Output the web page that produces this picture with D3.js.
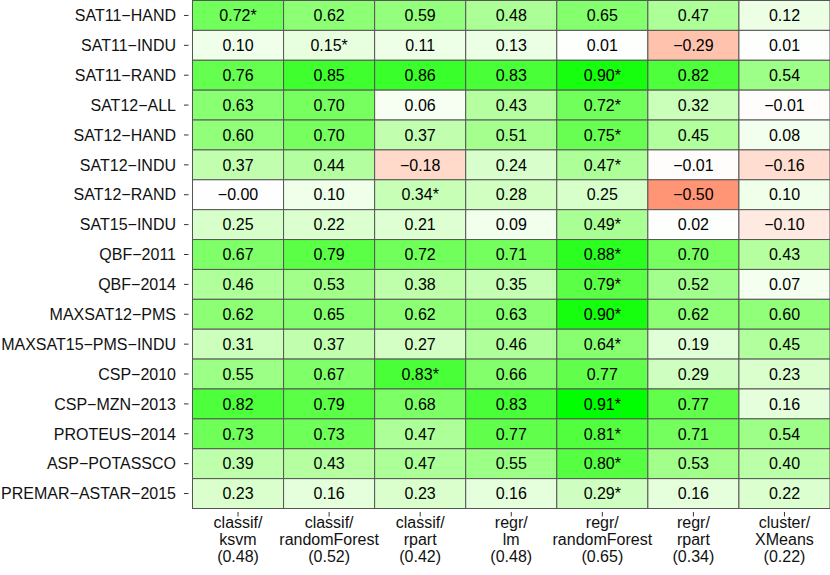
<!DOCTYPE html>
<html>
<head>
<meta charset="utf-8">
<script src="https://cdn.jsdelivr.net/npm/d3@7"></script>
<style>
  body { margin: 0; background: #fff; }
  svg text { font-family: "Liberation Sans", Arial, Helvetica, sans-serif; }
</style>
</head>
<body>
<svg id="chart" width="830" height="575"></svg>
<script>
// scenarios, top to bottom
let scenarios = ["SAT11-HAND", "SAT11-INDU", "SAT11-RAND", "SAT12-ALL", "SAT12-HAND",
    "SAT12-INDU", "SAT12-RAND", "SAT15-INDU", "QBF-2011", "QBF-2014", "MAXSAT12-PMS",
    "MAXSAT15-PMS-INDU", "CSP-2010", "CSP-MZN-2013", "PROTEUS-2014", "ASP-POTASSCO",
    "PREMAR-ASTAR-2015"];

let learnerType = ["classif", "classif", "classif", "regr", "regr", "regr", "cluster"];
let learnerName = ["ksvm", "randomForest", "rpart", "lm", "randomForest", "rpart", "XMeans"];
let learnerMean = [0.48, 0.52, 0.42, 0.48, 0.65, 0.34, 0.22];

// one row per scenario, one value per learner
let values = [
    [0.72, 0.62, 0.59, 0.48, 0.65, 0.47, 0.12],
    [0.10, 0.15, 0.11, 0.13, 0.01, -0.29, 0.01],
    [0.76, 0.85, 0.86, 0.83, 0.90, 0.82, 0.54],
    [0.63, 0.70, 0.06, 0.43, 0.72, 0.32, -0.01],
    [0.60, 0.70, 0.37, 0.51, 0.75, 0.45, 0.08],
    [0.37, 0.44, -0.18, 0.24, 0.47, -0.01, -0.16],
    [-0.004, 0.10, 0.34, 0.28, 0.25, -0.50, 0.10],
    [0.25, 0.22, 0.21, 0.09, 0.49, 0.02, -0.10],
    [0.67, 0.79, 0.72, 0.71, 0.88, 0.70, 0.43],
    [0.46, 0.53, 0.38, 0.35, 0.79, 0.52, 0.07],
    [0.62, 0.65, 0.62, 0.63, 0.90, 0.62, 0.60],
    [0.31, 0.37, 0.27, 0.46, 0.64, 0.19, 0.45],
    [0.55, 0.67, 0.83, 0.66, 0.77, 0.29, 0.23],
    [0.82, 0.79, 0.68, 0.83, 0.91, 0.77, 0.16],
    [0.73, 0.73, 0.47, 0.77, 0.81, 0.71, 0.54],
    [0.39, 0.43, 0.47, 0.55, 0.80, 0.53, 0.40],
    [0.23, 0.16, 0.23, 0.16, 0.29, 0.16, 0.22]
];
// column marked with * in each row
let best = [0, 1, 4, 4, 4, 4, 2, 4, 4, 4, 4, 4, 2, 4, 4, 4, 4];

let chart = d3.select("#chart");
let plotLeft = 192.5, plotRight = 830, plotTop = 0.5, plotBottom = 508.5;

let cols = d3.range(learnerName.length);
let xScale = d3.scaleBand().domain(cols).range([plotLeft, plotRight]);
let yScale = d3.scaleBand().domain(scenarios).range([plotTop, plotBottom]);

let lim = d3.max(values.flat(), v => Math.abs(v));
let color = d3.scaleLinear()
    .domain([-lim, 0, lim])
    .range(["#ff0000", "#ffffff", "#00ff00"])
    .interpolate(d3.interpolateLab);

// keep the sign on values that round to zero (e.g. -0.00)
let fmt2 = d3.format(".2f");
let fmt = v => (v < 0 ? "\u2212" : "") + fmt2(Math.abs(v));

let cells = [];
values.forEach((row, i) => row.forEach((v, j) => {
    cells.push({row: scenarios[i], col: j, v: v, star: best[i] == j});
}));

chart.selectAll("rect.cell")
    .data(cells).enter()
    .append("rect")
        .attr("class", "cell")
        .attr("x", d => xScale(d.col))
        .attr("y", d => yScale(d.row))
        .attr("width", xScale.bandwidth())
        .attr("height", yScale.bandwidth())
        .attr("fill", d => color(d.v))
        .attr("stroke", "#555")
        .attr("stroke-width", 1);

chart.selectAll("text.val")
    .data(cells).enter()
    .append("text")
        .attr("class", "val")
        .attr("x", d => xScale(d.col) + xScale.bandwidth() / 2)
        .attr("y", d => yScale(d.row) + yScale.bandwidth() / 2)
        .attr("dy", "0.36em")
        .attr("text-anchor", "middle")
        .style("font-size", "16px")
        .text(d => fmt(d.v) + (d.star ? "*" : ""));

// y axis: ticks and labels
let yAxis = chart.append("g");
yAxis.selectAll("line")
    .data(scenarios).enter()
    .append("line")
        .attr("x1", 184).attr("x2", 188.5)
        .attr("y1", d => yScale(d) + yScale.bandwidth() / 2)
        .attr("y2", d => yScale(d) + yScale.bandwidth() / 2)
        .attr("stroke", "#333");
yAxis.selectAll("text")
    .data(scenarios).enter()
    .append("text")
        .attr("x", 176)
        .attr("y", d => yScale(d) + yScale.bandwidth() / 2)
        .attr("dy", "0.36em")
        .attr("text-anchor", "end")
        .style("font-size", "16px")
        .attr("fill", "#111")
        .text(d => d.replace(/-/g, "\u2212"));

// x axis: ticks and three-line labels
let xAxis = chart.append("g");
xAxis.selectAll("line")
    .data(cols).enter()
    .append("line")
        .attr("x1", d => xScale(d) + xScale.bandwidth() / 2)
        .attr("x2", d => xScale(d) + xScale.bandwidth() / 2)
        .attr("y1", 512).attr("y2", 516.5)
        .attr("stroke", "#333");
let xl = xAxis.selectAll("text")
    .data(cols).enter()
    .append("text")
        .attr("text-anchor", "middle")
        .style("font-size", "16px")
        .attr("fill", "#111");
xl.append("tspan")
    .attr("x", d => xScale(d) + xScale.bandwidth() / 2).attr("y", 528)
    .text(d => learnerType[d] + "/");
xl.append("tspan")
    .attr("x", d => xScale(d) + xScale.bandwidth() / 2).attr("y", 545)
    .text(d => learnerName[d]);
xl.append("tspan")
    .attr("x", d => xScale(d) + xScale.bandwidth() / 2).attr("y", 562)
    .text(d => "(" + fmt(learnerMean[d]) + ")");
</script>
</body>
</html>
